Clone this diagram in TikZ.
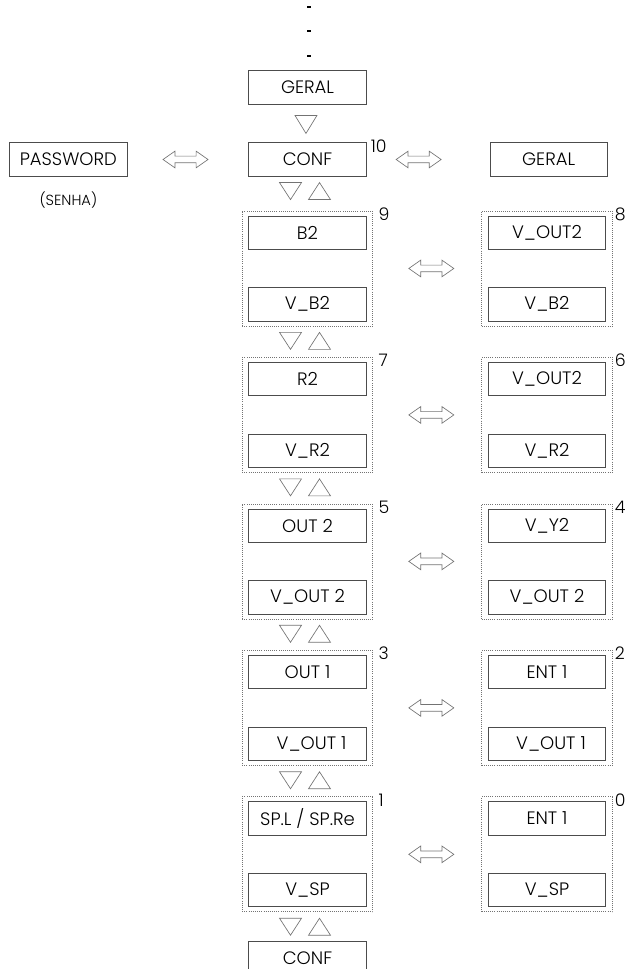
\documentclass[tikz,border=0pt]{standalone}
\usepackage{fontspec}
\setmainfont{Poppins}[UprightFont=* Light]
\usetikzlibrary{positioning,shapes.arrows}

\begin{document}
\begin{tikzpicture}[
        node distance=23pt,
        box/.style={draw=black!70, line width=0.6pt, minimum width=88pt, minimum height=25pt, inner sep=0pt, font=\fontsize{13.5}{15}\selectfont},
        frame/.style={draw=black!55, densely dotted, line width=0.6pt, minimum width=98pt, minimum height=86.25pt, inner sep=0pt},
        num/.style={anchor=north west, inner sep=0pt, font=\fontsize{13}{15}\selectfont},
        swap/.style={double arrow, draw=black!55, line width=0.5pt, minimum height=33.75pt, minimum width=12pt, inner sep=2.25pt, double arrow head extend=3.75pt, double arrow tip angle=70},
        pausedot/.style={fill=black, minimum width=3pt, minimum height=1.5pt, inner sep=0pt},
        tri/.style={draw=black!55, line width=0.5pt, line join=miter},
        dnarrow/.pic={\draw[tri] (-9.4pt,-8.25pt) -- (7.1pt,-8.25pt) -- (-1.15pt,-21.75pt) -- cycle;},
        updown/.pic={
            \draw[tri] (-21pt,-4.5pt) -- (-4.5pt,-4.5pt) -- (-12.75pt,-17.25pt) -- cycle;
            \draw[tri] (0.75pt,-17.25pt) -- (17.25pt,-17.25pt) -- (9pt,-4.5pt) -- cycle;}
    ]
        \useasboundingbox (0,0) rectangle (470.25pt,-726.75pt);

        % Top row
        \node[box] (conf) at (230.625pt,-119.625pt) {CONF};
        \node[box, above=28.5pt of conf] (geral) {GERAL};
        \node[box, left=90.75pt of conf] (pw) {PASSWORD};
        \node[inner sep=0pt, below=11pt of pw, font=\fontsize{11}{13}\selectfont] (senha) {(SENHA)};
        \node[box, right=92.25pt of conf] (geralr) {GERAL};
        \node[swap, right=26.25pt of pw] (spw) {};
        \node[swap, right=21.75pt of conf] (sconf) {};
        \node[num] (n10) at ([xshift=3pt,yshift=2.25pt]conf.north east) {10};

        % Dots above
        \node[pausedot, above=9.75pt of geral, xshift=1.1pt] (d1) {};
        \node[pausedot, above=16.5pt of d1] (d2) {};
        \node[pausedot, above=16.5pt of d2] (d3) {};

        % Left column
        \node[frame, below=25.5pt of conf] (f9) {};
        \node[frame, below=of f9] (f7) {};
        \node[frame, below=of f7] (f5) {};
        \node[frame, below=of f5] (f3) {};
        \node[frame, below=of f3] (f1) {};
        \node[box, below=21.75pt of f1] (confb) {CONF};

        % Right column
        \node[frame, right=81pt of f9] (f8) {};
        \node[frame, right=81pt of f7] (f6) {};
        \node[frame, right=81pt of f5] (f4) {};
        \node[frame, right=81pt of f3] (f2) {};
        \node[frame, right=81pt of f1] (f0) {};

        % Boxes in the frames
        \node[box, below=3.75pt of f9.north] (b2) {B2};
        \node[box, above=3.75pt of f9.south] (vb2) {V\_B2};
        \node[box, below=3.75pt of f8.north] (vout2a) {V\_OUT2};
        \node[box, above=3.75pt of f8.south] (vb2r) {V\_B2};
        \node[box, below=3.75pt of f7.north] (r2) {R2};
        \node[box, above=3.75pt of f7.south] (vr2) {V\_R2};
        \node[box, below=3.75pt of f6.north] (vout2b) {V\_OUT2};
        \node[box, above=3.75pt of f6.south] (vr2r) {V\_R2};
        \node[box, below=3.75pt of f5.north] (out2) {OUT 2};
        \node[box, above=3.75pt of f5.south] (vout2) {V\_OUT 2};
        \node[box, below=3.75pt of f4.north] (vy2) {V\_Y2};
        \node[box, above=3.75pt of f4.south] (vout2r) {V\_OUT 2};
        \node[box, below=3.75pt of f3.north] (out1) {OUT 1};
        \node[box, above=3.75pt of f3.south] (vout1) {\hspace{6pt}V\_OUT 1};
        \node[box, below=3.75pt of f2.north] (ent1a) {ENT 1};
        \node[box, above=3.75pt of f2.south] (vout1r) {\hspace{6pt}V\_OUT 1};
        \node[box, below=3.75pt of f1.north] (spl) {SP.L / SP.Re};
        \node[box, above=3.75pt of f1.south] (vsp) {V\_SP};
        \node[box, below=3.75pt of f0.north] (ent1b) {ENT 1};
        \node[box, above=3.75pt of f0.south] (vspr) {V\_SP};

        % Numbers
        \node[num] (n9) at ([xshift=3.75pt,yshift=2.25pt]f9.north east) {9};
        \node[num] (n7) at ([xshift=3.75pt,yshift=2.25pt]f7.north east) {7};
        \node[num] (n5) at ([xshift=3.75pt,yshift=2.25pt]f5.north east) {5};
        \node[num] (n3) at ([xshift=3.75pt,yshift=2.25pt]f3.north east) {3};
        \node[num] (n1) at ([xshift=3.75pt,yshift=2.25pt]f1.north east) {1};
        \node[num] (n8) at ([xshift=1.5pt,yshift=2.25pt]f8.north east) {8};
        \node[num] (n6) at ([xshift=1.5pt,yshift=2.25pt]f6.north east) {6};
        \node[num] (n4) at ([xshift=1.5pt,yshift=2.25pt]f4.north east) {4};
        \node[num] (n2) at ([xshift=1.5pt,yshift=2.25pt]f2.north east) {2};
        \node[num] (n0) at ([xshift=1.5pt,yshift=2.25pt]f0.north east) {0};

        % Double arrows between columns
        \node[swap, right=26.25pt of f9] (s98) {};
        \node[swap, right=26.25pt of f7] (s76) {};
        \node[swap, right=26.25pt of f5] (s54) {};
        \node[swap, right=26.25pt of f3] (s32) {};
        \node[swap, right=26.25pt of f1] (s10) {};

        % Triangles
        \pic at (geral.south) {dnarrow};
        \pic at (conf.south) {updown};
        \pic at (f9.south) {updown};
        \pic at (f7.south) {updown};
        \pic at (f5.south) {updown};
        \pic at (f3.south) {updown};
        \pic at (f1.south) {updown};
    \end{tikzpicture}
\end{document}
